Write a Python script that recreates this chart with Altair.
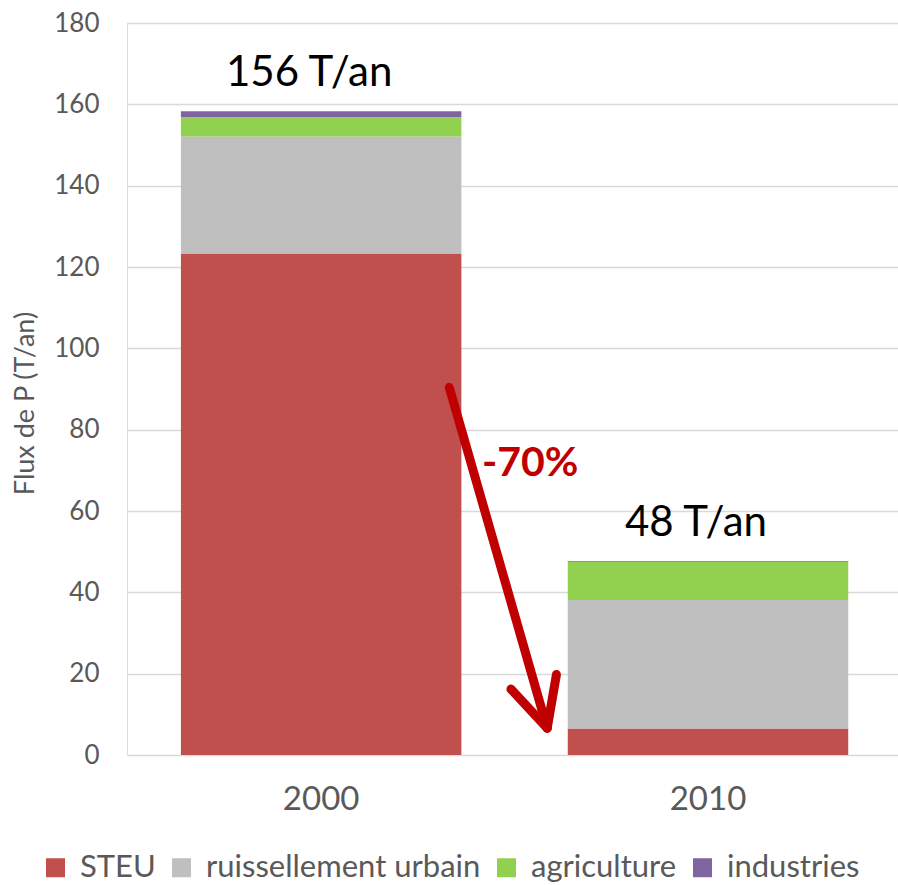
import altair as alt
import pandas as pd

years = ["2000", "2010"]
sources = ["STEU", "ruissellement urbain", "agriculture", "industries"]
colors = ["#C0504D", "#BFBFBF", "#92D050", "#8064A2"]
steu = [123.3, 6.5]
ruissellement = [28.8, 31.6]
agriculture = [4.7, 9.4]
industries = [1.5, 0.2]
total_labels = ["156 T/an", "48 T/an"]

# annotation: arrow in (fraction of plot width, data y)
arrow_x = [0.418, 0.545, 0.545]
arrow_y = [90.4, 6.6, 6.6]
arrow_x2 = [0.545, 0.498, 0.557]
arrow_y2 = [6.6, 16.2, 19.8]
pct_label = "-70%"
pct_pos = (0.523, 71.5)

FONT = "Lato"
GREY = "#595959"

rows = []
series = [steu, ruissellement, agriculture, industries]
for i, y in enumerate(years):
    for k, s in enumerate(sources):
        rows.append({"year": y, "source": s, "value": series[k][i], "ord": k})
df = pd.DataFrame(rows)

tot = pd.DataFrame({
    "year": years,
    "total": [sum(s[i] for s in series) for i in range(len(years))],
    "label": total_labels,
})

arrow = pd.DataFrame({"x": arrow_x, "y": arrow_y, "x2": arrow_x2, "y2": arrow_y2})
pct = pd.DataFrame({"x": [pct_pos[0]], "y": [pct_pos[1]], "t": [pct_label]})

yscale = alt.Scale(domain=[0, 180])
xband = alt.Scale(paddingInner=0.275, paddingOuter=0.134, align=0.52)

bars = alt.Chart(df).mark_bar().encode(
    x=alt.X("year:N", scale=xband, title=None,
            axis=alt.Axis(labelAngle=0, labelFontSize=33, labelColor=GREY, labelFont=FONT,
                          ticks=False, domain=False, labelPadding=28)),
    y=alt.Y("value:Q", stack="zero", scale=yscale,
            title="Flux de P (T/an)",
            axis=alt.Axis(values=list(range(0, 181, 20)), labelFontSize=26, labelColor=GREY,
                          labelFont=FONT, ticks=False, domain=False, labelPadding=28,
                          gridColor="#D9D9D9", gridWidth=1.3,
                          titleFontSize=27, titleColor=GREY, titleFont=FONT,
                          titleFontWeight="normal", titleX=-102, titleY=380,
                          titleAngle=-90, titleAlign="center", titleBaseline="middle")),
    color=alt.Color("source:N", scale=alt.Scale(domain=sources, range=colors), title=None,
                    legend=alt.Legend(orient="none", direction="horizontal",
                                      legendX=-87, legendY=829,
                                      labelFontSize=31, labelColor=GREY, labelFont=FONT,
                                      symbolType="square", symbolSize=361,
                                      symbolStrokeWidth=0, labelOffset=9,
                                      columnPadding=10, labelLimit=400)),
    order=alt.Order("ord:Q", sort="ascending"),
)

labels = alt.Chart(tot).mark_text(fontSize=42, font=FONT, color="black",
                                  baseline="bottom", dy=-16, dx=-12).encode(
    x=alt.X("year:N", scale=xband),
    y=alt.Y("total:Q", scale=yscale),
    text="label:N",
)

base = alt.layer(bars, labels)

xq = alt.Scale(domain=[0, 1])
arrow_layer = alt.Chart(arrow).mark_rule(color="#C00000", strokeWidth=9, strokeCap="round").encode(
    x=alt.X("x:Q", scale=xq, axis=None),
    x2="x2:Q",
    y=alt.Y("y:Q", scale=yscale),
    y2="y2:Q",
)
pct_layer = alt.Chart(pct).mark_text(fontSize=41, font=FONT, fontWeight="bold",
                                     color="#C00000").encode(
    x=alt.X("x:Q", scale=xq, axis=None),
    y=alt.Y("y:Q", scale=yscale),
    text="t:N",
)
annot = alt.layer(arrow_layer, pct_layer)

chart = alt.layer(base, annot).resolve_scale(x="independent").properties(
    width=771, height=732,
    autosize=alt.AutoSizeParams(type="none"),
    padding={"left": 127, "top": 23, "right": 0, "bottom": 130},
).configure_view(stroke=None).configure(background="white")

chart.save("out.html", embed_options={"renderer": "svg", "actions": False})
